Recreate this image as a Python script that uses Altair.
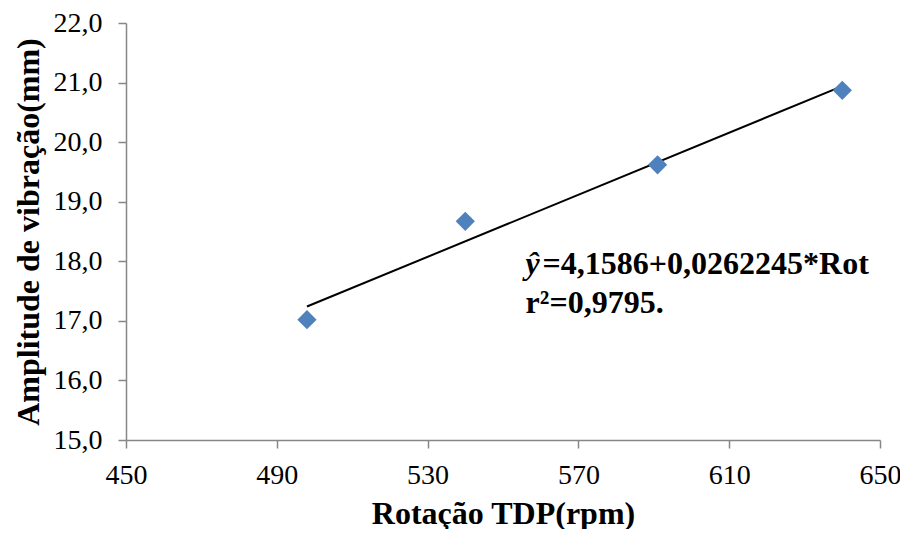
import altair as alt
import pandas as pd

# Data
rotacao = [498, 540, 591, 640]          # Rotação TDP (rpm)
amplitude = [17.02, 18.67, 19.62, 20.87]  # Amplitude de vibração (mm)

x_ticks = [450, 490, 530, 570, 610, 650]
y_ticks = [15, 16, 17, 18, 19, 20, 21, 22]

eq_symbol = ["ŷ"]
eq_rest = ["=4,1586+0,0262245*Rot"]
eq_r2 = ["r²=0,9795."]
eq_pos_x = [556]
eq_pos_y = [17.78]

df = pd.DataFrame({"rot": rotacao, "amp": amplitude})
ann = pd.DataFrame({"x": eq_pos_x, "y": eq_pos_y,
                    "sym": eq_symbol, "rest": eq_rest, "r2": eq_r2})

FONT = "Liberation Serif"
AXIS_COLOR = "#878787"

x_scale = alt.Scale(domain=[450, 650], nice=False, zero=False)
y_scale = alt.Scale(domain=[15, 22], nice=False, zero=False)

x_axis = alt.Axis(
    values=x_ticks, title="Rotação TDP(rpm)", grid=False,
    domainColor=AXIS_COLOR, tickColor=AXIS_COLOR, domainWidth=1.5, tickWidth=1.5,
    tickSize=8, labelFont=FONT, labelFontSize=28, labelColor="black",
    labelPadding=13, labelFlush=False, labelOverlap=False,
    titleFont=FONT, titleFontSize=32, titleFontWeight="bold",
    titleColor="black", titlePadding=9,
)
y_axis = alt.Axis(
    values=y_ticks, title="Amplitude de vibração(mm)", grid=False,
    domainColor=AXIS_COLOR, tickColor=AXIS_COLOR, domainWidth=1.5, tickWidth=1.5,
    tickSize=8, labelFont=FONT, labelFontSize=28, labelColor="black",
    labelPadding=16, labelFlush=False, labelOverlap=False,
    titleFont=FONT, titleFontSize=32, titleFontWeight="bold",
    titleColor="black", titlePadding=8,
    labelExpr="replace(format(datum.value, '.1f'), '.', ',')",
)

points = alt.Chart(df).mark_point(
    shape="diamond", filled=True, color="#4F81BD", size=370, opacity=1
).encode(
    x=alt.X("rot:Q", scale=x_scale, axis=x_axis),
    y=alt.Y("amp:Q", scale=y_scale, axis=y_axis),
)

trend = alt.Chart(df).transform_regression(
    "rot", "amp", method="linear"
).mark_line(color="black", strokeWidth=2).encode(
    x=alt.X("rot:Q", scale=x_scale),
    y=alt.Y("amp:Q", scale=y_scale),
)

base_ann = alt.Chart(ann).encode(
    x=alt.X("x:Q", scale=x_scale),
    y=alt.Y("y:Q", scale=y_scale),
)
txt_style = dict(align="left", baseline="alphabetic", font=FONT, fontSize=32,
                 fontWeight="bold", color="black")

sym = base_ann.mark_text(fontStyle="italic", **txt_style).encode(text="sym:N")
rest = base_ann.mark_text(dx=17, **txt_style).encode(text="rest:N")
r2 = base_ann.mark_text(dy=39, **txt_style).encode(text="r2:N")

chart = alt.layer(trend, points, sym, rest, r2).properties(
    width=754, height=417,
    autosize=alt.AutoSizeParams(type="none"),
    padding={"left": 118, "top": 15, "right": 20, "bottom": 89},
    background="white",
).configure_view(stroke=None)

chart.save("out.html", embed_options={"renderer": "svg", "actions": False})
